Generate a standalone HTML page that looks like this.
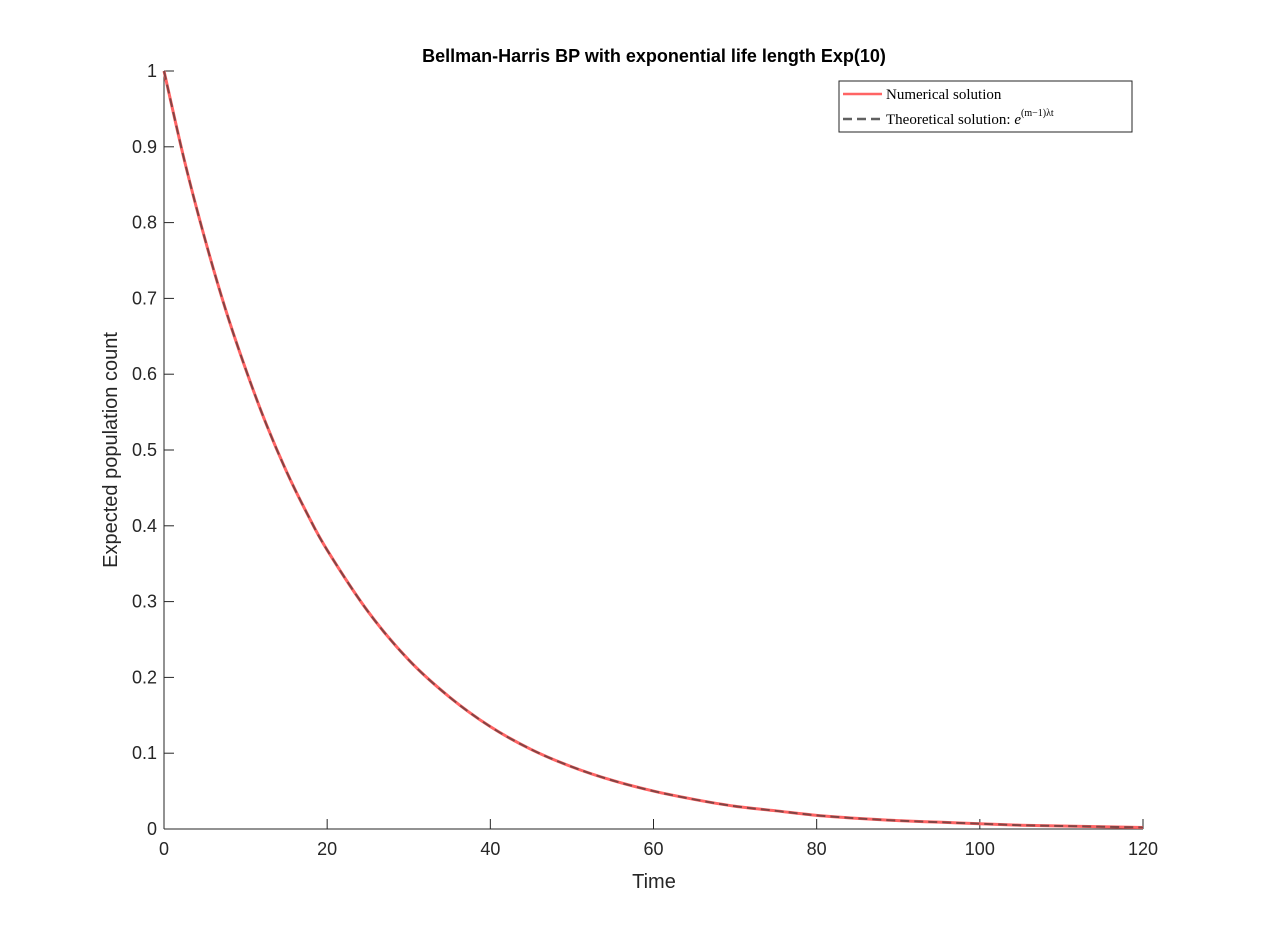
<!DOCTYPE html>
<html><head><meta charset="utf-8"><style>
body{margin:0;background:#fff;}
svg text{font-family:"Liberation Sans",Arial,sans-serif;}
</style></head><body>
<svg width="1264" height="932" xmlns="http://www.w3.org/2000/svg">
<rect width="1264" height="932" fill="#fff"/>
<text x="654" y="62" text-anchor="middle" font-size="18" font-weight="bold">Bellman-Harris BP with exponential life length Exp(10)</text>
<g id="axes"></g>
<g id="series"></g>
<text x="654" y="888" text-anchor="middle" font-size="20" fill="#262626">Time</text>
<text transform="translate(117,450) rotate(-90)" text-anchor="middle" font-size="20" fill="#262626">Expected population count</text>
<g>
<rect x="839" y="81" width="293" height="51" fill="#fff" stroke="#262626" stroke-width="1"/>
<line x1="843" y1="94" x2="882" y2="94" stroke="#ff6464" stroke-width="2.5"/>
<text x="886" y="99" font-size="15" font-family="Liberation Serif,serif" style="font-family:'Liberation Serif',serif">Numerical solution</text>
<line x1="843" y1="119" x2="882" y2="119" stroke="#606060" stroke-width="2.5" stroke-dasharray="9,5"/>
<text x="886" y="124" font-size="15" style="font-family:'Liberation Serif',serif">Theoretical solution: <tspan font-style="italic">e</tspan><tspan font-size="10" dy="-8">(m−1)λt</tspan></text>
</g>
</svg>
<script>
const times=[0,2.5,5,7.5,10,12.5,15,17.5,20,25,30,35,40,45,50,55,60,65,70,75,80,85,90,95,100,105,110,115,120];
const numericalVals=[1,0.882,0.779,0.687,0.607,0.535,0.472,0.417,0.368,0.287,0.223,0.174,0.135,0.105,0.082,0.064,0.050,0.039,0.030,0.024,0.018,0.014,0.011,0.009,0.007,0.005,0.004,0.003,0.002];
const theoreticalVals=[1,0.882,0.779,0.687,0.607,0.535,0.472,0.417,0.368,0.287,0.223,0.174,0.135,0.105,0.082,0.064,0.050,0.039,0.030,0.024,0.018,0.014,0.011,0.009,0.007,0.005,0.004,0.003,0.002];
const xTicks=[0,20,40,60,80,100,120];
const yTicks=[0,0.1,0.2,0.3,0.4,0.5,0.6,0.7,0.8,0.9,1];
const NS="http://www.w3.org/2000/svg";
const X0=164,X1=1143,Y0=829,Y1=71;
const sx=t=>X0+t/120*(X1-X0);
const sy=v=>Y0-v*(Y0-Y1);
function mk(tag,attrs,parent){const e=document.createElementNS(NS,tag);for(const k in attrs)e.setAttribute(k,attrs[k]);parent.appendChild(e);return e;}
const ax=document.getElementById('axes');
let l=mk('line',{x1:X0,y1:Y0,x2:X1,y2:Y0,stroke:'#262626'},ax);


l=mk('line',{x1:X0,y1:Y0,x2:X0,y2:Y1,stroke:'#262626'},ax);


xTicks.forEach(t=>{
 const tk=mk('line',{x1:sx(t),y1:Y0,x2:sx(t),y2:Y0-10,stroke:'#262626'},ax);
 
 
 const tx=mk('text',{x:sx(t),y:Y0+26,'text-anchor':'middle','font-size':18,fill:'#262626'},ax);
 tx.textContent=t;
 
 
});
yTicks.forEach(v=>{
 const tk=mk('line',{x1:X0,y1:sy(v),x2:X0+10,y2:sy(v),stroke:'#262626'},ax);
 
 
 const tx=mk('text',{x:X0-7,y:sy(v)+6,'text-anchor':'end','font-size':18,fill:'#262626'},ax);
 tx.textContent=v;
 
 
});
function pathFor(vals){
 const p=times.map((t,i)=>[sx(t),sy(vals[i])]);
 let d='M'+p[0][0]+','+p[0][1];
 for(let i=0;i<p.length-1;i++){
  const a=p[i-1]||p[i],b=p[i],c=p[i+1],e=p[i+2]||c;
  d+=' C'+(b[0]+(c[0]-a[0])/6)+','+(b[1]+(c[1]-a[1])/6)+' '+(c[0]-(e[0]-b[0])/6)+','+(c[1]-(e[1]-b[1])/6)+' '+c[0]+','+c[1];
 }
 return d;
}
const sg=document.getElementById('series');
const s1=mk('path',{d:pathFor(numericalVals),fill:'none',stroke:'#ff6464','stroke-width':3},sg);


const s2=mk('path',{d:pathFor(theoreticalVals),fill:'none',stroke:'#5a3a3a','stroke-width':2,'stroke-dasharray':'9,5','stroke-opacity':0.75},sg);


</script>
</body></html>
